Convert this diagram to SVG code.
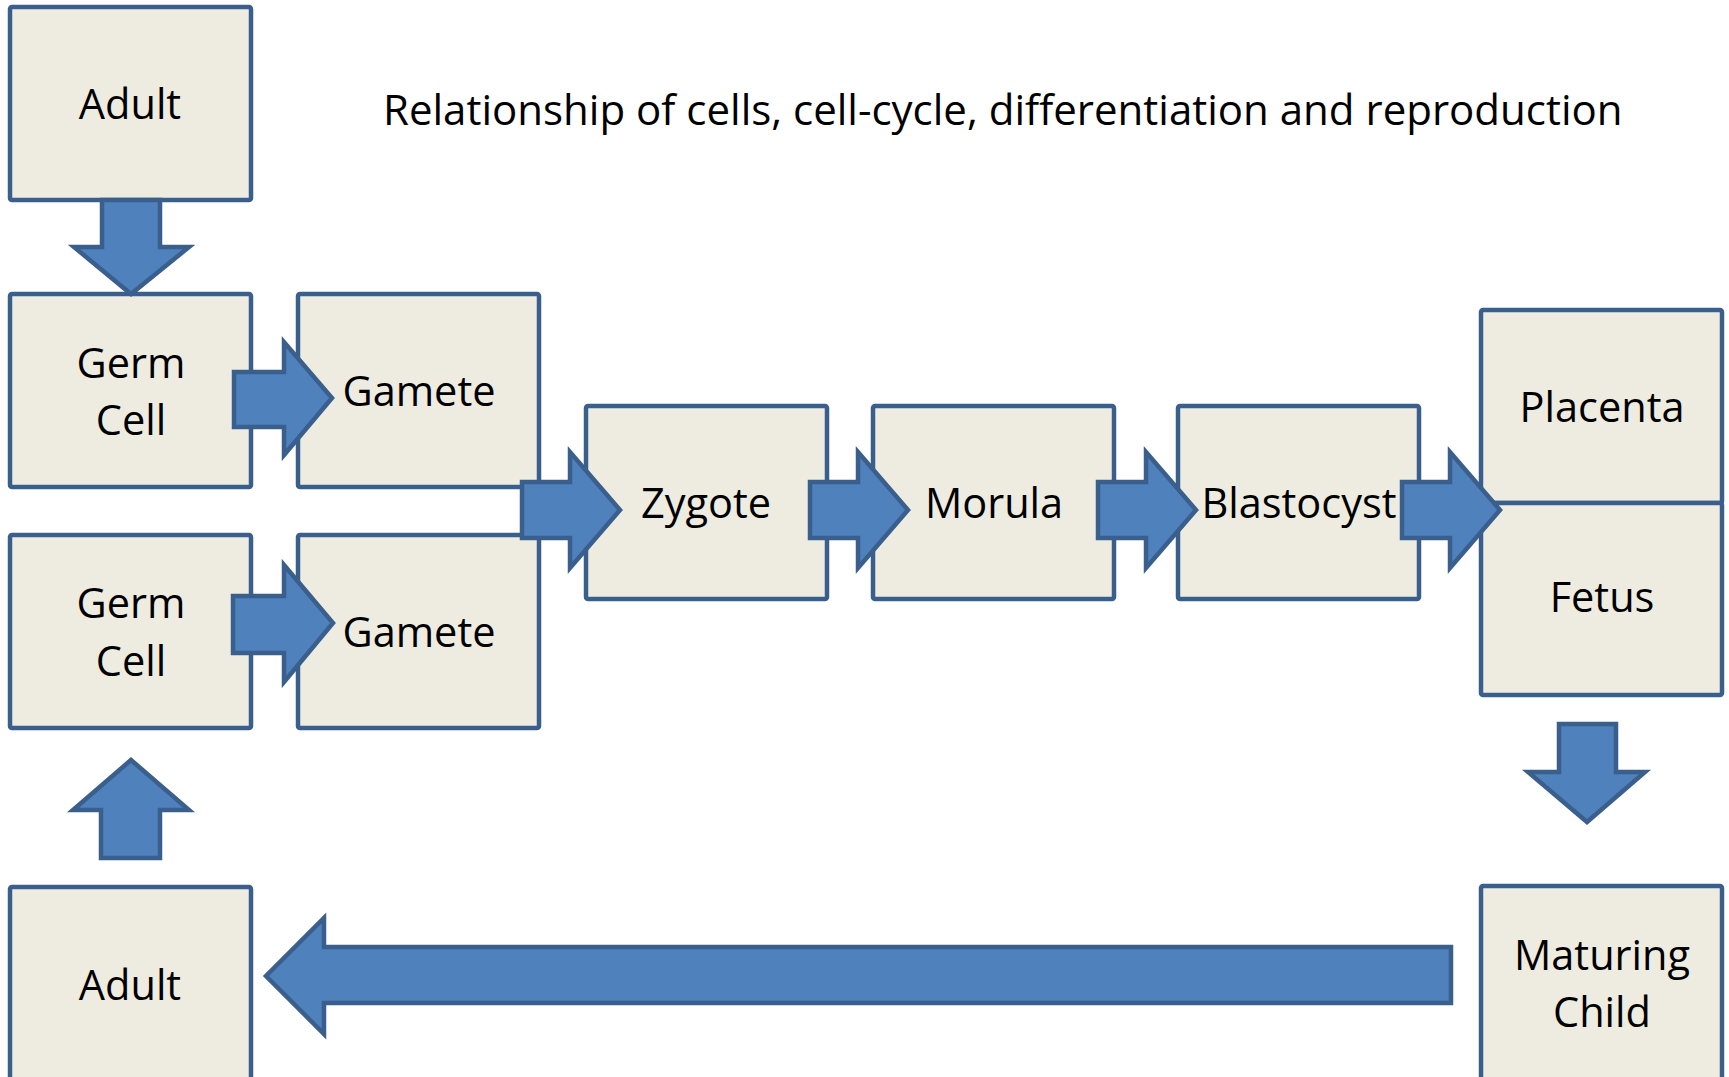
<svg xmlns="http://www.w3.org/2000/svg" width="1729" height="1077" viewBox="0 0 1729 1077">
  <style>
    .box { fill: #EEECE1; stroke: #3A5F8C; stroke-width: 4.5; }
    .lbl { font-family: "Open Sans", "Liberation Sans", sans-serif; font-size: 41.5px; fill: #000; text-anchor: middle; }
    .title { font-family: "Open Sans", "Liberation Sans", sans-serif; font-size: 42px; fill: #000; }
    .arrow { fill: #4F81BD; stroke: #3A5F8C; stroke-width: 4.5; stroke-linejoin: miter; }
  </style>
  <rect width="1729" height="1077" fill="#FFFFFF"/>

  <text class="title" x="383" y="125">Relationship of cells, cell-cycle, differentiation and reproduction</text>

  <g id="nodes">
    <g id="adult-top">
      <rect class="box" x="10" y="7" width="241" height="193" rx="2"/>
      <text class="lbl" x="130" y="119">Adult</text>
    </g>
    <g id="germ-cell-1">
      <rect class="box" x="10" y="294" width="241" height="193" rx="2"/>
      <text class="lbl" x="131" y="378">Germ</text>
      <text class="lbl" x="131" y="435">Cell</text>
    </g>
    <g id="gamete-1">
      <rect class="box" x="298" y="294" width="241" height="193" rx="2"/>
      <text class="lbl" x="419" y="406">Gamete</text>
    </g>
    <g id="germ-cell-2">
      <rect class="box" x="10" y="535" width="241" height="193" rx="2"/>
      <text class="lbl" x="131" y="618">Germ</text>
      <text class="lbl" x="131" y="676">Cell</text>
    </g>
    <g id="gamete-2">
      <rect class="box" x="298" y="535" width="241" height="193" rx="2"/>
      <text class="lbl" x="419" y="647">Gamete</text>
    </g>
    <g id="zygote">
      <rect class="box" x="586" y="406" width="241" height="193" rx="2"/>
      <text class="lbl" x="706" y="518">Zygote</text>
    </g>
    <g id="morula">
      <rect class="box" x="873" y="406" width="241" height="193" rx="2"/>
      <text class="lbl" x="994" y="518">Morula</text>
    </g>
    <g id="blastocyst">
      <rect class="box" x="1178" y="406" width="241" height="193" rx="2"/>
      <text class="lbl" x="1299" y="518">Blastocyst</text>
    </g>
    <g id="placenta">
      <rect class="box" x="1481" y="310" width="241" height="193" rx="2"/>
      <text class="lbl" x="1602" y="422">Placenta</text>
    </g>
    <g id="fetus">
      <rect class="box" x="1481" y="503" width="241" height="192" rx="2"/>
      <text class="lbl" x="1602" y="612">Fetus</text>
    </g>
    <g id="maturing-child">
      <rect class="box" x="1481" y="886" width="241" height="200" rx="2"/>
      <text class="lbl" x="1602" y="970">Maturing</text>
      <text class="lbl" x="1602" y="1027">Child</text>
    </g>
    <g id="adult-bottom">
      <rect class="box" x="10" y="887" width="241" height="200" rx="2"/>
      <text class="lbl" x="130" y="1000">Adult</text>
    </g>
  </g>

  <g id="connectors">
    <!-- block arrows between stages -->
    <path class="arrow" d="M102,200 H160 V247 H189 L131,294 L74,247 H102 Z"/>
    <path class="arrow" d="M234,372 H284 V342 L332,398 L284,455 V427 H234 Z"/>
    <path class="arrow" d="M233,596 H284 V565 L333,623 L284,682 V653 H233 Z"/>
    <path class="arrow" d="M522,482 H570 V452 L620,510 L570,568 V538 H522 Z"/>
    <path class="arrow" d="M810,482 H858 V452 L908,510 L858,568 V538 H810 Z"/>
    <path class="arrow" d="M1098,482 H1146 V452 L1196,510 L1146,568 V538 H1098 Z"/>
    <path class="arrow" d="M1402,482 H1450 V452 L1500,510 L1450,568 V538 H1402 Z"/>
    <path class="arrow" d="M1559,724 H1616 V772 H1645 L1587,822 L1528,772 H1559 Z"/>
    <path class="arrow" d="M101,858 V810 H73 L131,760 L189,810 H160 V858 Z"/>
    <path class="arrow" d="M1451,947 V1003 H324 V1034 L266,976 L324,918 V947 Z"/>
  </g>
</svg>
